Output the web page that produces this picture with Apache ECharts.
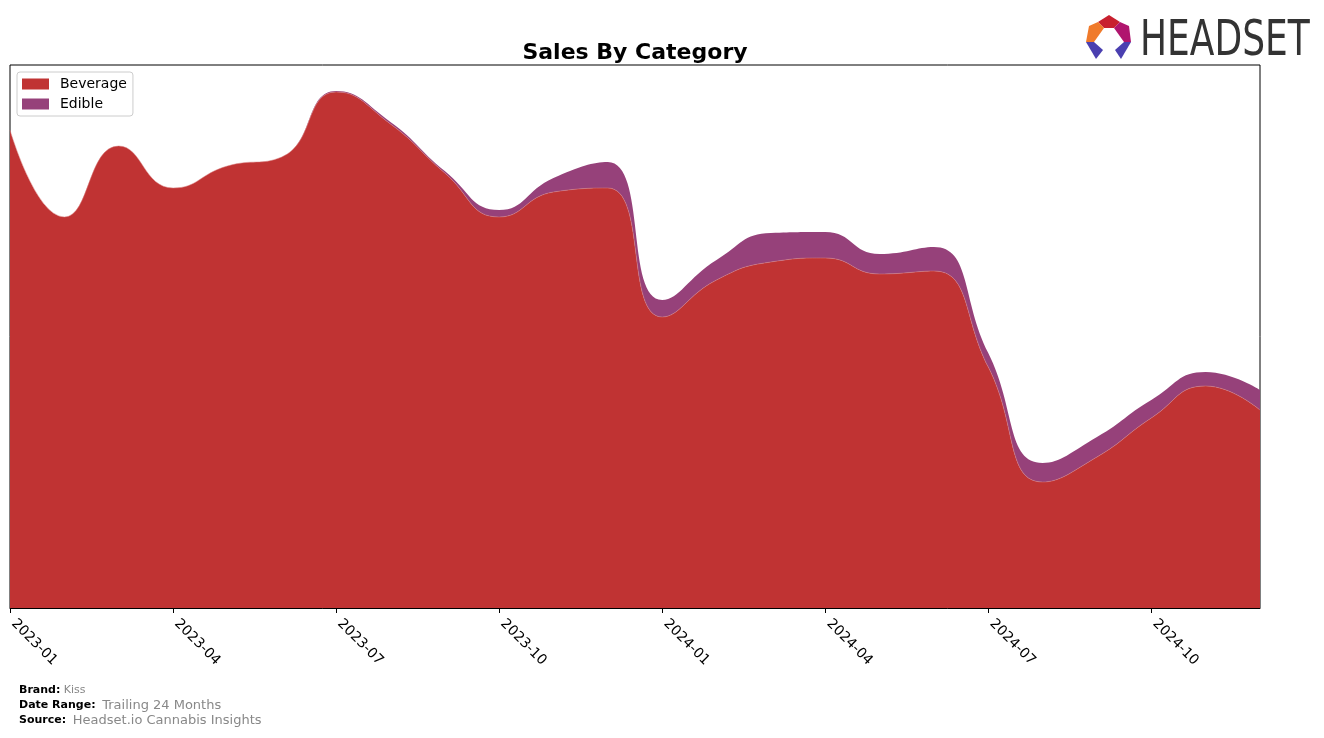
<!DOCTYPE html>
<html>
<head>
<meta charset="utf-8">
<script src="https://cdn.jsdelivr.net/npm/echarts@6/dist/echarts.min.js"></script>
<style>
html,body{margin:0;padding:0;background:#fff;}
#chart{width:1324px;height:738px;}
</style>
</head>
<body>
<div id="chart"></div>
<script>
const months = ["2023-01","2023-02","2023-03","2023-04","2023-05","2023-06","2023-07","2023-08","2023-09","2023-10","2023-11","2023-12",
"2024-01","2024-02","2024-03","2024-04","2024-05","2024-06","2024-07","2024-08","2024-09","2024-10","2024-11","2024-12"];
const beverage = [478,391,462,420,442,451,516,484,435,391,416,420,291,328,346,350,334,337,241,126,151,190,222,198];
const edible   = [0,0,0,0,0,0,1,2,2,7,14,26,17,20,29,26,20,24,14,19,20,18,14,20];
const seriesNames = ["Beverage","Edible"];
const colors = ["#c03333","#96417a"];

const chart = echarts.init(document.getElementById('chart'));
const F = 'DejaVu Sans';
chart.setOption({
  animation:false,
  title:{text:'Sales By Category',left:630,top:37,textAlign:'center',
    textStyle:{fontFamily:F,fontWeight:'bold',fontSize:22,color:'#000'}},
  legend:{orient:'vertical',left:17,top:72,padding:[5,6,5,5],itemGap:6,itemWidth:27,itemHeight:11,
    borderColor:'#ccc',borderWidth:1,borderRadius:3,icon:'rect',
    textStyle:{fontFamily:F,fontSize:14,color:'#000',padding:[0,0,0,6]},data:seriesNames},
  grid:{left:10,right:64,top:65,bottom:130,show:true,borderColor:'#000',borderWidth:1,backgroundColor:'transparent'},
  xAxis:{type:'category',data:months,boundaryGap:false,
    axisLine:{lineStyle:{color:'#000'}},
    axisTick:{interval:2,length:5,lineStyle:{color:'#000'}},
    axisLabel:{interval:2,rotate:-45,fontFamily:F,fontSize:14,color:'#000',margin:10,padding:[0,0,0,5]},
    splitLine:{show:false}},
  yAxis:{type:'value',min:0,max:543,show:true,axisLine:{show:false},axisTick:{show:false},axisLabel:{show:false},splitLine:{show:false}},
  series:[
    {name:seriesNames[0],type:'line',stack:'a',smooth:0.5,showSymbol:false,data:beverage,
      lineStyle:{width:0.5,color:'#d98080'},itemStyle:{color:colors[0]},areaStyle:{color:colors[0],opacity:1}},
    {name:seriesNames[1],type:'line',stack:'a',smooth:0.5,showSymbol:false,data:edible,
      lineStyle:{width:0},itemStyle:{color:colors[1]},areaStyle:{color:colors[1],opacity:1}}
  ],
  graphic:[
    {type:'text',left:19,top:684,style:{rich:{b:{fontFamily:F,fontWeight:'bold',fontSize:11,fill:'#000'},g:{fontFamily:F,fontSize:11,fill:'#888'}},
      text:'{b|Brand:} {g|Kiss}'}},
    {type:'text',left:19,top:699,style:{rich:{b:{fontFamily:F,fontWeight:'bold',fontSize:11,fill:'#000'},g:{fontFamily:F,fontSize:13,fill:'#888'}},
      text:'{b|Date Range:}  {g|Trailing 24 Months}'}},
    {type:'text',left:19,top:714,style:{rich:{b:{fontFamily:F,fontWeight:'bold',fontSize:11,fill:'#000'},g:{fontFamily:F,fontSize:13,fill:'#888'}},
      text:'{b|Source:}  {g|Headset.io Cannabis Insights}'}},
    {type:'text',x:1140,y:17,scaleX:0.72,style:{text:'HEADSET',fontFamily:'DejaVu Sans',fontSize:50,fill:'#333',textVerticalAlign:'top'}},
    {type:'polygon',shape:{points:[[1098,22],[1109,15],[1120,22],[1114,28],[1104,28]]},style:{fill:'#c8202f'}},
    {type:'polygon',shape:{points:[[1098,22],[1104,28],[1094,42],[1086,42],[1089,26]]},style:{fill:'#f07a2a'}},
    {type:'polygon',shape:{points:[[1120,22],[1129,26],[1131,42],[1124,42],[1114,28]]},style:{fill:'#b0156e'}},
    {type:'polygon',shape:{points:[[1086,42],[1094,42],[1103,50],[1096,59]]},style:{fill:'#4a3fb0'}},
    {type:'polygon',shape:{points:[[1131,42],[1124,42],[1115,50],[1121,59]]},style:{fill:'#4a3fb0'}}
  ]
});
</script>
</body>
</html>
